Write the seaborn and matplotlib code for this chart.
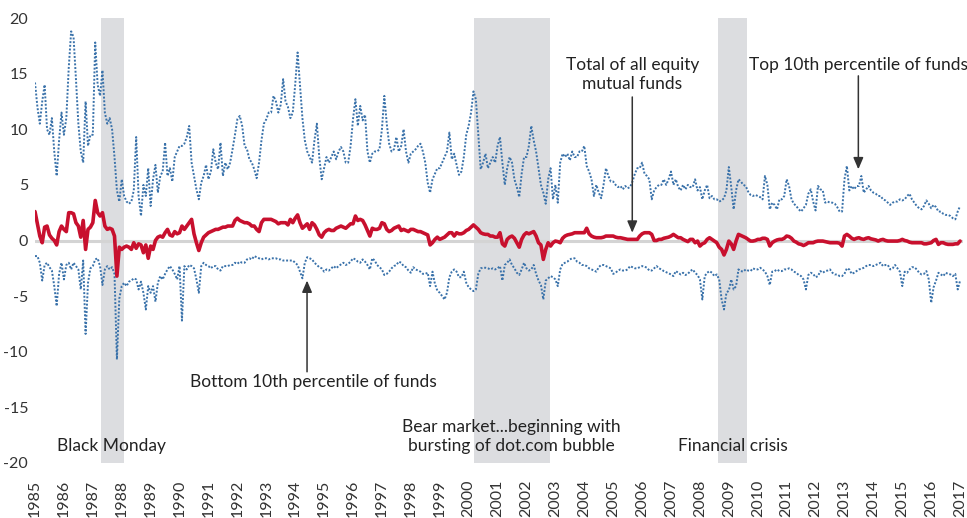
import numpy as np
import pandas as pd
import matplotlib
matplotlib.use("Agg")
import matplotlib.pyplot as plt
import seaborn as sns

# ---------------- data (monthly, Jan 1985 .. Jan 2017) ----------------
start_year = 1985

top10 = [
    14.2, 12.0, 10.5, 12.5, 14.0, 10.0, 9.5, 11.0, 8.0, 5.8, 9.0, 11.5,      # 1985
    9.5, 11.0, 15.5, 18.8, 18.3, 14.5, 10.5, 8.0, 7.0, 12.5, 8.5, 9.5,       # 1986
    9.5, 17.8, 14.0, 13.0, 15.3, 11.5, 10.5, 11.0, 10.0, 7.5, 4.5, 3.5,      # 1987
    5.5, 4.0, 3.5, 3.3, 3.5, 4.5, 9.3, 4.0, 2.2, 5.0, 4.0, 6.5,              # 1988
    3.1, 5.5, 6.8, 4.3, 5.8, 6.2, 8.8, 5.8, 6.5, 5.3, 7.5, 8.0,              # 1989
    8.5, 8.5, 8.7, 9.3, 10.3, 7.0, 5.8, 4.6, 3.7, 5.2, 5.8, 6.8,             # 1990
    5.5, 6.2, 8.2, 7.0, 6.4, 8.8, 5.8, 7.0, 6.4, 7.0, 8.2, 9.5,              # 1991
    10.9, 11.2, 10.3, 8.5, 8.2, 7.3, 7.0, 6.4, 5.6, 7.0, 9.0, 10.5,          # 1992
    10.9, 11.5, 11.5, 13.0, 12.5, 11.5, 12.2, 14.5, 12.5, 12.0, 11.0, 11.5,  # 1993
    14.0, 16.9, 14.0, 11.0, 9.0, 8.0, 7.5, 7.0, 9.0, 10.5, 7.5, 5.5,         # 1994
    6.5, 7.5, 7.0, 7.5, 8.0, 7.3, 8.0, 8.4, 8.0, 7.0, 7.0, 8.5,              # 1995
    10.9, 12.7, 10.3, 12.1, 10.8, 11.3, 8.0, 7.0, 7.8, 8.0, 8.0, 8.2,        # 1996
    10.0, 13.0, 10.5, 8.7, 8.0, 8.2, 9.3, 8.0, 8.5, 10.0, 8.0, 7.0,          # 1997
    7.8, 8.0, 8.2, 8.5, 8.7, 8.0, 7.0, 5.2, 4.3, 5.5, 6.0, 6.5,              # 1998
    6.5, 7.0, 7.5, 8.0, 9.7, 7.3, 7.8, 6.8, 5.9, 6.2, 7.5, 9.5,              # 1999
    10.3, 11.5, 13.4, 12.7, 9.5, 6.4, 7.0, 7.8, 6.5, 7.0, 7.5, 7.0,          # 2000
    8.5, 9.3, 7.0, 5.0, 6.5, 7.5, 7.0, 5.5, 4.8, 3.9, 6.0, 7.5,              # 2001
    7.5, 8.5, 10.3, 9.0, 8.0, 6.5, 5.0, 4.3, 3.3, 5.5, 6.5, 3.7,             # 2002
    5.0, 3.4, 7.0, 7.8, 7.5, 7.8, 7.2, 8.0, 7.5, 7.5, 8.0, 8.0,              # 2003
    8.5, 6.7, 6.2, 5.5, 4.0, 5.0, 4.3, 3.8, 5.0, 6.5, 5.8, 5.3,              # 2004
    5.3, 5.0, 4.8, 4.9, 4.6, 4.9, 4.7, 4.8, 5.3, 6.0, 6.5, 6.5,              # 2005
    7.0, 6.0, 5.8, 5.5, 3.7, 4.5, 4.8, 5.0, 5.0, 5.5, 5.0, 5.5,              # 2006
    6.2, 5.0, 5.5, 4.8, 4.5, 5.0, 4.6, 5.0, 4.8, 4.8, 5.5, 4.5,              # 2007
    4.8, 3.7, 4.5, 5.0, 3.8, 4.0, 3.7, 3.7, 3.5, 3.6, 3.8, 4.5,              # 2008
    6.6, 4.8, 2.8, 4.5, 5.5, 5.3, 5.0, 4.9, 4.4, 4.1, 4.0, 4.1,              # 2009
    4.0, 3.9, 3.7, 5.8, 5.0, 2.8, 3.4, 3.2, 2.8, 3.7, 3.7, 4.0,              # 2010
    5.5, 4.9, 3.7, 3.3, 3.1, 2.8, 2.6, 2.9, 3.2, 4.2, 4.6, 3.5,              # 2011
    2.7, 4.9, 4.6, 4.5, 3.4, 3.5, 3.4, 3.4, 3.3, 3.0, 2.6, 2.6,              # 2012
    5.5, 6.7, 4.5, 4.9, 4.6, 4.9, 4.9, 5.8, 4.3, 4.6, 4.9, 4.5,              # 2013
    4.3, 4.2, 4.0, 4.0, 3.7, 3.6, 3.4, 3.2, 3.4, 3.5, 3.5, 3.7,              # 2014
    3.6, 3.7, 4.0, 4.2, 3.7, 3.4, 3.1, 2.9, 2.8, 3.1, 3.6, 3.3,              # 2015
    2.9, 3.2, 3.0, 2.6, 2.6, 2.4, 2.3, 2.3, 2.2, 2.0, 1.9, 2.6,              # 2016
    3.1,                                                                     # 2017
]

total_all = [
    2.6, 1.5, 0.4, -0.2, 1.2, 1.3, 0.5, 0.2, 0.0, -0.4, 0.8, 1.3,            # 1985
    1.0, 0.8, 2.5, 2.5, 2.4, 1.6, 1.3, 0.3, 1.8, -0.8, 1.0, 1.2,             # 1986
    1.6, 3.6, 2.5, 2.2, 2.5, 1.3, 1.0, 1.1, 1.0, 0.4, -3.2, -0.6,            # 1987
    -0.8, -0.6, -0.5, -0.6, -0.8, -0.2, -0.7, -0.3, -0.4, -1.1, -0.4, -1.6,  # 1988
    -0.5, -0.8, 0.0, 0.3, 0.4, 0.3, 0.7, 1.0, 0.5, 0.4, 0.8, 0.6,            # 1989
    0.7, 1.3, 1.0, 1.3, 1.6, 1.9, 0.6, -0.2, -0.9, -0.2, 0.3, 0.5,           # 1990
    0.7, 0.8, 0.9, 1.0, 1.0, 1.1, 1.2, 1.2, 1.3, 1.3, 1.3, 1.8,              # 1991
    2.0, 1.8, 1.7, 1.6, 1.6, 1.5, 1.3, 1.3, 1.0, 0.8, 1.6, 1.9,              # 1992
    1.9, 1.9, 1.9, 1.8, 1.7, 1.5, 1.6, 1.6, 1.6, 1.4, 1.9, 1.6,              # 1993
    2.0, 2.3, 1.6, 1.1, 1.3, 1.5, 1.0, 1.6, 1.4, 1.0, 0.5, 0.3,              # 1994
    0.7, 0.9, 1.0, 0.9, 0.9, 1.1, 1.2, 1.3, 1.2, 1.1, 1.3, 1.5,              # 1995
    1.5, 2.2, 1.8, 1.9, 1.8, 1.4, 0.9, 0.4, 1.1, 1.0, 1.0, 1.1,              # 1996
    1.6, 1.5, 1.0, 0.8, 0.9, 1.1, 1.2, 1.3, 0.9, 1.0, 0.9, 0.8,              # 1997
    1.0, 1.0, 0.9, 0.8, 0.8, 0.7, 0.6, 0.5, -0.4, -0.2, 0.1, 0.3,            # 1998
    0.1, 0.2, 0.3, 0.5, 0.7, 0.7, 0.4, 0.7, 0.6, 0.6, 0.7, 0.9,              # 1999
    1.0, 1.2, 1.4, 1.2, 1.0, 0.7, 0.6, 0.55, 0.55, 0.4, 0.4, 0.3,            # 2000
    0.3, 0.7, -0.3, -0.5, 0.1, 0.3, 0.4, 0.2, -0.2, -0.6, 0.1, 0.5,          # 2001
    0.7, 0.6, 0.7, 0.8, 0.4, -0.2, -0.4, -1.7, -0.8, -0.2, -0.5, -0.2,       # 2002
    -0.05, -0.1, -0.2, 0.2, 0.4, 0.5, 0.55, 0.6, 0.7, 0.7, 0.7, 0.7,         # 2003
    0.7, 1.1, 0.6, 0.4, 0.3, 0.25, 0.25, 0.25, 0.3, 0.4, 0.4, 0.4,           # 2004
    0.4, 0.3, 0.25, 0.25, 0.2, 0.15, 0.1, 0.1, 0.1, 0.1, 0.1, 0.4,           # 2005
    0.6, 0.7, 0.7, 0.7, 0.55, 0.0, 0.0, 0.1, 0.1, 0.2, 0.25, 0.3,            # 2006
    0.4, 0.55, 0.4, 0.25, 0.25, 0.1, 0.0, -0.1, 0.1, 0.1, -0.2, -0.05,       # 2007
    -0.5, -0.3, -0.2, 0.1, 0.25, 0.1, -0.05, -0.2, -0.6, -0.8, -1.3, -0.8,   # 2008
    -0.05, -0.3, -0.8, -0.05, 0.55, 0.45, 0.35, 0.25, 0.1, -0.05, -0.05, 0.0,  # 2009
    0.1, 0.1, 0.2, 0.2, 0.1, -0.5, -0.2, -0.05, 0.05, 0.1, 0.1, 0.2,         # 2010
    0.4, 0.35, 0.2, -0.05, -0.15, -0.3, -0.35, -0.45, -0.35, -0.2, -0.2, -0.2,  # 2011
    -0.1, -0.05, -0.05, -0.05, -0.1, -0.15, -0.2, -0.2, -0.2, -0.2, -0.25, -0.5,  # 2012
    0.4, 0.55, 0.4, 0.2, 0.1, 0.2, 0.25, 0.15, 0.1, 0.2, 0.25, 0.15,         # 2013
    0.1, 0.05, -0.05, 0.05, 0.1, 0.0, -0.05, -0.05, -0.05, -0.05, -0.05, 0.0,  # 2014
    0.1, 0.0, -0.05, -0.15, -0.2, -0.2, -0.2, -0.2, -0.2, -0.3, -0.3, -0.25,  # 2015
    -0.2, 0.0, 0.1, -0.35, -0.2, -0.2, -0.3, -0.35, -0.35, -0.35, -0.3, -0.3,  # 2016
    -0.05,                                                                   # 2017
]

bottom10 = [
    -1.4, -1.4, -2.0, -3.6, -2.2, -2.0, -2.4, -2.7, -4.1, -5.9, -3.0, -2.0,  # 1985
    -3.5, -2.2, -2.0, -2.6, -2.0, -2.3, -2.6, -4.4, -1.8, -8.4, -3.8, -2.5,  # 1986
    -2.3, -1.7, -1.6, -2.3, -4.0, -2.6, -2.3, -2.6, -2.4, -3.0, -10.7, -5.2,  # 1987
    -4.1, -3.8, -4.1, -3.7, -3.6, -3.4, -3.5, -4.4, -3.7, -4.7, -6.2, -4.1,  # 1988
    -4.7, -4.1, -5.5, -3.8, -3.2, -3.5, -3.0, -2.6, -2.3, -2.6, -3.0, -3.5,  # 1989
    -2.3, -7.2, -2.3, -2.6, -2.2, -2.3, -2.5, -3.5, -4.7, -2.3, -2.0, -2.2,  # 1990
    -2.3, -2.5, -2.3, -2.3, -2.6, -2.7, -2.3, -2.3, -2.3, -2.2, -2.2, -2.0,  # 1991
    -2.1, -1.9, -2.0, -2.0, -1.7, -1.6, -1.7, -1.4, -1.5, -1.6, -1.7, -1.6,  # 1992
    -1.6, -1.7, -1.6, -1.6, -1.6, -1.7, -1.7, -1.8, -1.8, -1.8, -1.8, -1.8,  # 1993
    -2.0, -2.2, -2.8, -3.4, -2.0, -1.5, -1.6, -1.7, -2.0, -2.2, -2.4, -2.5,  # 1994
    -2.8, -2.6, -2.7, -2.5, -2.3, -2.5, -2.3, -2.15, -2.0, -2.2, -2.1, -1.9,  # 1995
    -1.6, -1.7, -1.9, -2.0, -1.7, -1.9, -2.2, -2.6, -1.6, -1.8, -2.2, -2.4,  # 1996
    -2.6, -3.1, -3.0, -2.8, -2.5, -2.3, -2.2, -1.9, -2.0, -2.3, -2.4, -2.7,  # 1997
    -2.9, -2.4, -2.6, -2.7, -2.8, -3.0, -3.0, -2.9, -4.1, -2.8, -3.9, -4.5,  # 1998
    -4.7, -5.0, -5.3, -4.7, -3.3, -2.8, -2.6, -2.8, -3.3, -3.3, -2.8, -3.8,  # 1999
    -4.2, -4.4, -4.55, -4.4, -3.0, -2.5, -2.45, -2.45, -2.5, -2.6, -2.5, -2.6,  # 2000
    -2.5, -2.3, -3.6, -2.2, -2.0, -1.7, -2.2, -2.5, -2.9, -3.1, -2.6, -2.0,  # 2001
    -2.5, -2.7, -2.6, -2.2, -3.0, -3.6, -4.0, -5.3, -3.6, -3.4, -3.2, -3.3,  # 2002
    -3.5, -4.1, -2.6, -2.1, -2.0, -1.9, -1.7, -1.6, -1.6, -1.9, -2.0, -2.2,  # 2003
    -2.2, -2.3, -2.5, -2.6, -2.7, -2.8, -2.4, -2.2, -2.2, -2.3, -2.4, -2.5,  # 2004
    -3.0, -2.9, -2.7, -2.6, -2.7, -2.7, -2.6, -2.3, -2.4, -2.5, -2.5, -2.4,  # 2005
    -2.3, -2.35, -2.45, -2.7, -2.7, -2.5, -2.3, -2.5, -2.6, -2.75, -2.85, -2.95,  # 2006
    -3.05, -3.2, -2.75, -2.9, -3.05, -2.9, -3.1, -3.0, -2.75, -2.6, -2.9, -3.1,  # 2007
    -3.5, -5.3, -3.2, -2.9, -2.75, -2.9, -3.2, -3.05, -3.5, -5.3, -6.2, -4.7,  # 2008
    -4.5, -3.5, -4.4, -4.1, -2.6, -2.75, -2.8, -2.6, -2.7, -2.75, -2.5, -2.6,  # 2009
    -2.6, -2.45, -2.6, -2.8, -3.2, -4.0, -2.8, -2.75, -2.6, -2.75, -2.75, -2.6,  # 2010
    -2.6, -2.5, -2.6, -2.8, -2.9, -3.1, -3.2, -3.5, -4.4, -3.1, -2.9, -3.0,  # 2011
    -3.3, -3.2, -2.75, -2.9, -2.75, -2.7, -2.6, -2.9, -3.05, -3.05, -3.2, -3.2,  # 2012
    -3.0, -2.5, -2.6, -3.0, -2.9, -2.75, -2.6, -2.55, -2.45, -2.3, -2.2, -2.2,  # 2013
    -2.3, -2.2, -2.1, -2.0, -2.3, -2.2, -2.2, -2.6, -2.5, -2.2, -2.5, -2.8,  # 2014
    -4.1, -2.8, -2.9, -2.6, -2.4, -2.4, -2.6, -2.9, -3.05, -3.0, -2.75, -3.5,  # 2015
    -5.6, -4.2, -3.6, -2.9, -3.05, -3.2, -2.9, -3.0, -3.05, -3.2, -3.0, -4.4,  # 2016
    -3.6,                                                                    # 2017
]

shade_starts = [1987.28, 2000.19, 2008.63]
shade_ends = [1988.08, 2002.82, 2009.64]
event_labels = ["Black Monday",
                "Bear market...beginning with\nbursting of dot.com bubble",
                "Financial crisis"]
event_label_x = [1987.63, 2001.47, 2009.15]
event_label_y = [-18.5, -17.6, -18.5]

year_ticks = list(range(1985, 2018))
y_ticks = [20, 15, 10, 5, 0, -5, -10, -15, -20]

# ---------------- build frame ----------------
n = len(top10)
assert n == len(total_all) == len(bottom10)
month_index = np.arange(n)
df = pd.DataFrame({
    "date": start_year + month_index / 12.0,
    "top": top10,
    "total": total_all,
    "bottom": bottom10,
})

# ---------------- style ----------------
sns.set_style("white")
plt.rcParams["font.family"] = ["Lato", "DejaVu Sans"]

W, H = 967, 518
fig = plt.figure(figsize=(W / 100, H / 100), dpi=100)
left_px, right_px, top_px, bot_px = 35, 963, 18, 463
ax = fig.add_axes([left_px / W, 1 - bot_px / H,
                   (right_px - left_px) / W, (bot_px - top_px) / H])

for s, e in zip(shade_starts, shade_ends):
    ax.axvspan(s, e, color="#dcdde0", lw=0, zorder=0)
ax.axhline(0, color="#d4d4d4", lw=2.2, zorder=1)

blue = "#3a72aa"
sns.lineplot(data=df, x="date", y="top", ax=ax, color=blue, lw=1.4,
             linestyle=(0, (1, 0.9)), zorder=3)
sns.lineplot(data=df, x="date", y="bottom", ax=ax, color=blue, lw=1.4,
             linestyle=(0, (1, 0.9)), zorder=3)
sns.lineplot(data=df, x="date", y="total", ax=ax, color="#c8102e", lw=2.6,
             zorder=4)

ax.set_xlim(1985, 2017.1)
ax.set_ylim(-20, 20)
ax.set_xlabel("")
ax.set_ylabel("")
ax.set_xticks(year_ticks)
ax.set_xticklabels([str(y) for y in year_ticks], rotation=90,
                   fontsize=11.5, color="#333333")
ax.set_yticks(y_ticks)
ax.set_yticklabels([str(v) for v in y_ticks], fontsize=11.5, color="#333333")
ax.tick_params(axis="x", length=0, pad=12)
ax.tick_params(axis="y", length=0, pad=5)
for sp in ax.spines.values():
    sp.set_visible(False)

txt_color = "#222222"
arrow_kw = dict(arrowstyle="-|>,head_length=0.7,head_width=0.3",
                color="#333333", lw=1.1, shrinkA=0, shrinkB=0)

# Total of all equity mutual funds
ax.text(2005.66, 14.9, "Total of all equity\nmutual funds", ha="center",
        va="center", fontsize=12.5, color=txt_color, linespacing=1.25)
ax.annotate("", xy=(2005.66, 0.7), xytext=(2005.66, 12.9), arrowprops=arrow_kw)

# Top 10th percentile
ax.text(2013.48, 15.8, "Top 10th percentile of funds", ha="center",
        va="center", fontsize=12.5, color=txt_color)
ax.annotate("", xy=(2013.48, 6.4), xytext=(2013.48, 14.8), arrowprops=arrow_kw)

# Bottom 10th percentile
ax.text(1994.62, -12.7, "Bottom 10th percentile of funds", ha="center",
        va="center", fontsize=12.5, color=txt_color)
ax.annotate("", xy=(1994.41, -3.6), xytext=(1994.41, -11.8), arrowprops=arrow_kw)

for lab, lx, ly in zip(event_labels, event_label_x, event_label_y):
    ax.text(lx, ly, lab, ha="center", va="center", fontsize=12.5,
            color=txt_color, linespacing=1.25)

fig.savefig("out.png", dpi=100)
